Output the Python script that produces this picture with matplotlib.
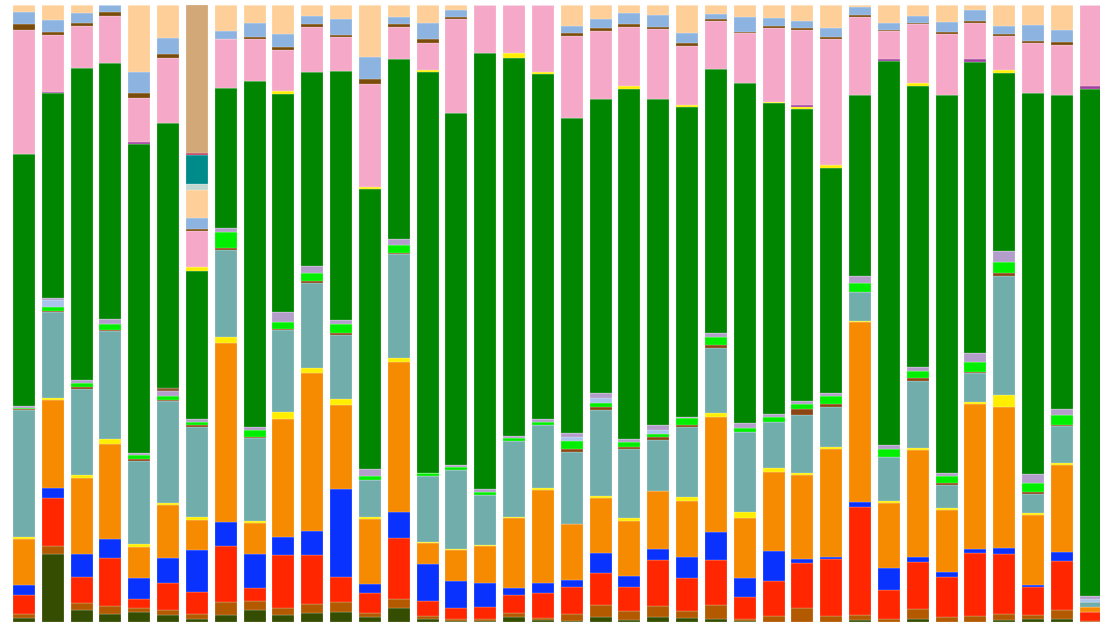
import matplotlib
matplotlib.use("Agg")
import matplotlib.pyplot as plt
import numpy as np

# relative abundance per sample (raw reads, normalised to 100% below)
samples = [f"S{i + 1}" for i in range(38)]

olive = [4, 68, 12, 8, 9.7, 7, 2.7, 7, 12, 7, 8.7, 10.3, 5.3, 13.7, 2.7, 1.3, 0.7, 4.7, 1.7, 1.3,
         5.3, 2, 5.3, 3.7, 2.7, 1, 0.5, 0.5, 0.5, 2, 0.5, 2.7, 0.5, 0.5, 2, 2.6, 2.6, 0.3]
rust = [4, 8, 6.7, 8, 4.6, 5, 5.3, 12.7, 9.3, 7.3, 9.3, 10, 4, 9, 3.3, 1.4, 2, 4, 2, 6.7,
        11.7, 9.3, 10.7, 7.6, 14.3, 1.7, 5.7, 13.4, 5.7, 5, 2.4, 10, 4.4, 5.7, 6, 4, 9.3, 0.5]
red = [19, 47.7, 26.6, 47.7, 8.4, 27.3, 21.7, 56.6, 12.4, 52.7, 49, 25, 19.4, 61.6, 15, 11.6, 12.6, 18.3, 25.6, 27.3,
       32.3, 24, 46, 33, 45, 22, 35, 45.6, 56.7, 108.3, 29.3, 47, 40, 63.3, 60, 28.7, 49, 9]
blue = [10, 9, 22.7, 19, 21.6, 24.4, 42.3, 24, 34, 18.3, 24.3, 87.4, 9.3, 26, 36.7, 27, 24, 7.3, 10, 6.7,
        19.4, 11, 10.7, 20.4, 28.3, 19, 30, 3.4, 2.6, 4.4, 21.7, 5.6, 5, 3.4, 5.7, 1.3, 9.4, 0.5]
orange = [46, 88.3, 76.3, 95, 30.4, 53.3, 30, 178.4, 31, 117.7, 157.4, 84.3, 64.7, 149.4, 21, 30.7, 37, 69.4, 92.7, 55.7,
          55, 54.7, 58.3, 56.6, 114.4, 60, 78.7, 84.3, 107.4, 180, 65.6, 106.7, 62.3, 145, 141.6, 71, 87, 4.4]
yellow = [1.3, 2, 2.7, 5, 3, 2.3, 2.7, 6, 2.6, 7.3, 5, 5.7, 2.6, 4.6, 1.6, 1, 0.5, 1.6, 1.7, 0.5,
          2.6, 2.7, 0.5, 3.4, 4, 6, 4, 1.7, 2.6, 1.6, 2, 1.7, 1.7, 2.6, 11.7, 1.7, 2, 0]
teal = [127, 85, 86.3, 108.3, 83.6, 102, 90.6, 87.3, 82.4, 81.7, 85, 64.3, 36.7, 103.4, 66, 79, 50.7, 75.7, 63.3, 71.6,
        85.7, 69.3, 51, 70.6, 65, 80, 46.6, 58.3, 40, 29, 44, 67.3, 23.3, 28.4, 119.3, 19.3, 36.6, 5.6]
sienna = [1, 1.3, 1.3, 0.5, 1.5, 0.5, 1.7, 1.7, 1.6, 1, 2.3, 1.7, 0, 1.6, 0, 0, 0, 0, 0, 3.7,
          2.7, 2.3, 2.7, 1.6, 3.3, 0, 0, 6, 2.7, 0, 0, 3.3, 2.3, 1.6, 2.4, 1.3, 1.7, 0]
lime = [1.5, 3.5, 4, 6, 4, 4.7, 3.3, 16, 6.7, 7.3, 8.3, 9.3, 4.3, 7.7, 3, 3.3, 2.3, 3.3, 3.3, 8,
        4, 4.4, 3.3, 6.7, 8.3, 4.6, 5, 5, 8, 9, 7.4, 7, 7, 9.4, 11, 9.4, 10, 0]
pale_blue = [0, 7, 0, 0, 0, 0, 0, 0, 0, 0, 0, 0, 0, 0, 0, 0, 0, 0, 0, 3.7,
             5, 0, 3.3, 0, 0, 0, 0, 0, 0, 0, 0, 0, 0, 0, 0, 0, 0, 2.7]
lavender = [2, 2, 3.3, 5.7, 2, 5, 2.4, 4, 3.3, 9.4, 6.7, 4, 6.4, 5.7, 0, 1.7, 3.7, 1.7, 2.4, 4,
            5.6, 3.3, 5.7, 1.6, 3.4, 4.4, 2.7, 3, 2.7, 6.7, 4.3, 3.4, 3, 9.6, 11.6, 9, 5.7, 2.7]
brown_hi = [0, 0, 0, 0, 0, 2.7, 0, 0, 0, 0, 0, 0, 0, 0, 0, 0, 0, 0, 0, 0,
            0, 0, 0, 0, 0, 0, 0, 0, 0, 0, 0, 0, 0, 0, 0, 0, 0, 0]
green = [251, 203.7, 311.7, 256, 309.3, 265, 148.6, 140.6, 345.4, 218, 194.3, 249, 280, 180, 401, 352.3, 435.7, 377.7, 345.3, 315,
         293.7, 349.7, 325.7, 309.4, 264, 340.6, 310.7, 292, 225.6, 181, 384, 281.6, 377.7, 291, 177.4, 381.6, 314.3, 508]
yellow2 = [0, 0, 0, 0, 0, 0, 4, 0, 0, 3.3, 0, 0, 2, 0, 1.7, 0, 0, 5, 2.3, 0,
           0, 3.3, 0, 2.3, 0, 0, 1, 1.7, 2.7, 0, 0, 2.4, 0, 0, 3.3, 0, 0, 0]
purple = [0, 1, 0, 0, 2.3, 0, 0, 0, 0, 0, 0, 0, 0, 0, 0, 0, 0, 0, 0, 0,
          0, 0, 0, 0, 0, 0, 0, 2.3, 0, 0, 2, 0, 0, 2.4, 0, 0, 0, 3.3]
pink = [124, 56.7, 42.3, 47, 44, 65, 35.7, 48.4, 41.7, 41, 44.4, 33.7, 103.3, 32.6, 27.3, 93.4, 48.3, 48.3, 66.7, 82.6,
        68.3, 59.3, 70, 59, 48.6, 50, 74.6, 75, 125.7, 78.3, 28, 59, 61, 36, 34, 49.4, 50, 81]
brown = [5.3, 2.7, 2.7, 4, 4.4, 4, 1.7, 0, 2.6, 3.3, 3, 2.3, 4.7, 2.7, 3.7, 2, 0, 0, 0, 2.4,
         2.4, 2.4, 2.6, 2.7, 1.7, 1, 1.7, 1.7, 2.6, 1.7, 1, 1.6, 2.3, 2.3, 1.7, 2.3, 2.7, 0]
light_blue = [12.6, 12.3, 10, 6.7, 21, 16, 11, 8.3, 13.4, 12.7, 8.6, 16, 22.6, 6.7, 16.3, 7.3, 0, 0, 0, 7.6,
              9.3, 11, 11.7, 10, 5, 14.4, 7.7, 7.3, 8.4, 7.7, 7.3, 7, 9.4, 11, 8.3, 16, 12.3, 0]
peach = [6.7, 15, 8.3, 0, 67.3, 33.3, 28.3, 26, 18.3, 29, 10.7, 14, 51.7, 12.3, 17.7, 5, 0, 0, 0, 20.7,
         14, 8.3, 10, 28.3, 9, 12.3, 13.3, 16, 23.3, 2.3, 17.7, 10.7, 17.3, 5, 21, 20, 25, 0]
# only sample 7 carries these
only7 = lambda v: [v if i == 6 else 0 for i in range(38)]
pale = only7(5.7)
dark_teal = only7(29.3)
crimson = only7(1.7)
tan = only7(148.3)

layers = [
    (olive, "#344d00"), (rust, "#b35900"), (red, "#ff2600"), (blue, "#0a32ff"),
    (orange, "#f68a00"), (yellow, "#ffee00"), (teal, "#70adab"), (sienna, "#8b4513"),
    (lime, "#00ee00"), (pale_blue, "#a9c4ea"), (lavender, "#b29dcb"), (brown_hi, "#8b5a2b"),
    (green, "#008600"), (yellow2, "#ffee00"), (purple, "#a040a0"), (pink, "#f5a8c8"),
    (brown, "#7a4b0b"), (light_blue, "#8db3e0"), (peach, "#ffcf99"), (pale, "#c0d8d0"),
    (dark_teal, "#008b8b"), (crimson, "#c04060"), (tan, "#d2a878"),
]

data = np.array([l[0] for l in layers], dtype=float)
pct = data / data.sum(axis=0) * 100

fig = plt.figure(figsize=(11, 6.25), dpi=100)
ax = fig.add_axes([0, 3 / 625, 1, 617 / 625])
x = np.arange(len(samples))
bottom = np.zeros(len(samples))
for vals, (_, color) in zip(pct, layers):
    ax.bar(x, vals, bottom=bottom, width=0.763, color=color,
           edgecolor=(1, 1, 1, 0.5), linewidth=0.3)
    bottom += vals

ax.set_xlim(-0.832, 37.32)
ax.set_ylim(0, 100)
ax.axis("off")

fig.savefig("out.png", dpi=100)
